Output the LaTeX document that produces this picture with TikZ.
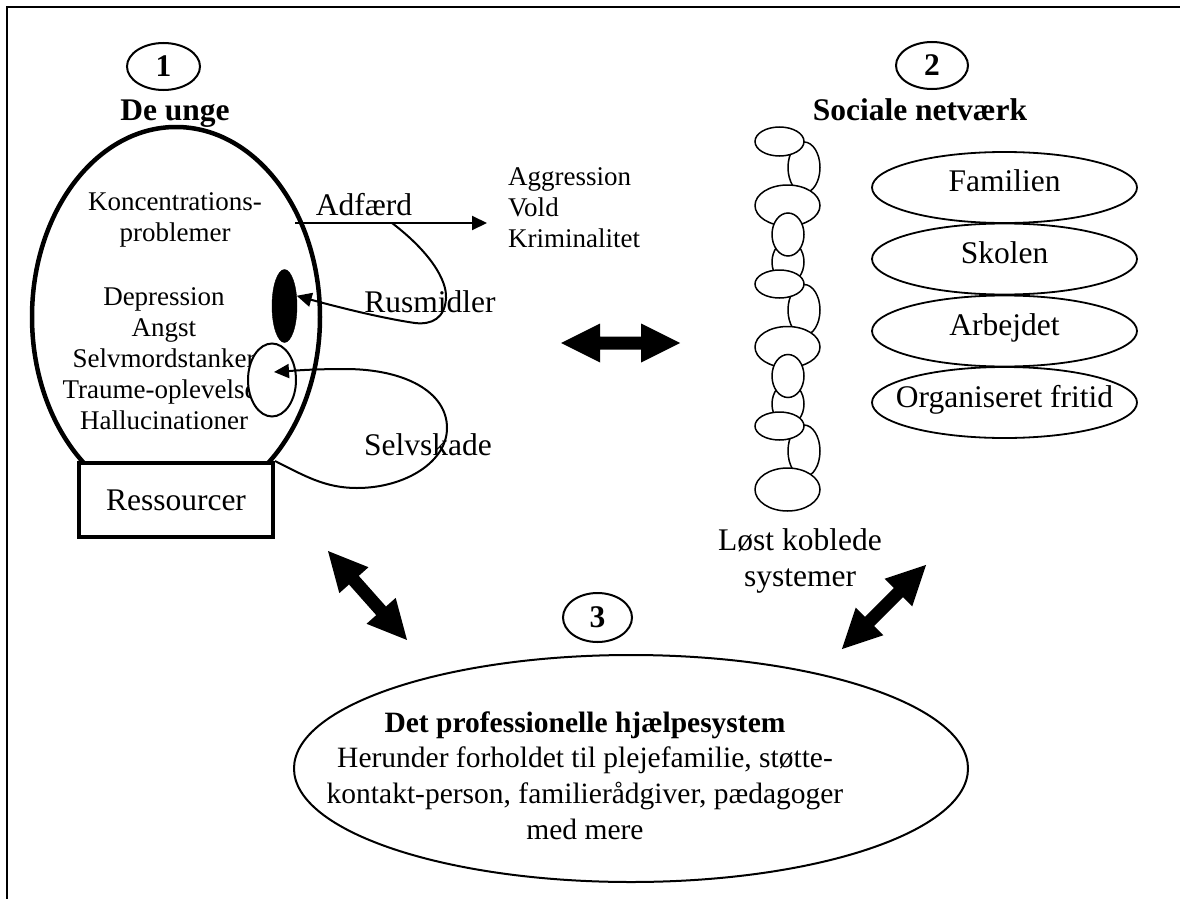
\documentclass[tikz,border=0pt]{standalone}
\usepackage{fontspec}
\setmainfont{Liberation Serif}
\usetikzlibrary{shapes.geometric,arrows.meta}
\newcommand\dblarrowshape[3]{%
  \coordinate (#1) at (#2);
  \fill[shift={(#1)},rotate=#3] (-59.5,0) -- (-20.5,-19.5) -- (-20.5,-6.5) -- (20.5,-6.5) -- (20.5,-19.5) -- (59.5,0) -- (20.5,19.5) -- (20.5,6.5) -- (-20.5,6.5) -- (-20.5,19.5) -- cycle;}
\begin{document}
\begin{tikzpicture}[x=1pt,y=-1pt,
  t12/.style={font=\fontsize{27}{31}\selectfont, inner sep=0pt},
  t13/.style={font=\fontsize{29.5}{36}\selectfont, inner sep=0pt},
  t14/.style={font=\fontsize{31.5}{36}\selectfont, inner sep=0pt},
  bold14/.style={font=\fontsize{31.5}{36}\selectfont\bfseries, inner sep=0pt},
  numell/.style={draw, ellipse, line width=2pt, inner sep=0pt, font=\fontsize{31.5}{36}\selectfont\bfseries},
  link/.style={ellipse, draw, fill=white, line width=1.5pt, inner sep=0pt},
  socell/.style={ellipse, draw, line width=1.8pt, inner sep=0pt, minimum width=265pt, minimum height=71pt},
  thinline/.style={line width=2pt},
  tip/.style={-{Triangle[length=15pt,width=14pt]}}
]
\useasboundingbox (0,0) rectangle (1180,899);
% frame
\coordinate (bl) at (7,899);
\coordinate (tl) at (7,7);
\coordinate (tr) at (1180,7);
\draw[line width=2pt] (bl) -- (tl) -- (tr);

% ---- 1: De unge
\node[numell, minimum width=73pt, minimum height=47pt] (n1) at (163.5,66.5) {1};
\node[bold14, anchor=base] (deunge) at (175,120) {De unge};
\node[draw, ellipse, line width=4.5pt, minimum width=288pt, minimum height=380pt, inner sep=0pt] (head) at (176,317) {};
\node[t12, anchor=base] (k1) at (175,210) {Koncentrations-};
\node[t12, anchor=base] (k2) at (175,241) {problemer};
\node[t12, anchor=base] (s1) at (164,305) {Depression};
\node[t12, anchor=base] (s2) at (164,336) {Angst};
\node[t12, anchor=base] (s3) at (164,367) {Selvmordstanker};
\node[t12, anchor=base] (s4) at (164,398) {Traume-oplevelser};
\node[t12, anchor=base] (s5) at (164,429) {Hallucinationer};
\node[draw, fill=black, ellipse, minimum width=25pt, minimum height=73pt, inner sep=0pt] (blk) at (284.5,306) {};
\node[draw, fill=white, ellipse, line width=2pt, minimum width=48pt, minimum height=73pt, inner sep=0pt] (sm) at (272,380) {};
\node[t14, draw, fill=white, line width=4pt, minimum width=194pt, minimum height=74pt] (res) at (176,500) {Ressourcer};

% Adfaerd
\coordinate (adfs) at (295,223);
\coordinate (adfe) at (487,223);
\coordinate (split) at (392,223);
\draw[thinline, tip] (adfs) -- (adfe);
\node[t14, anchor=base] (adf) at (364,215) {Adfærd};
\node[t12, anchor=base west] (agg) at (508,185) {Aggression};
\node[t12, anchor=base west] (vold) at (508,216) {Vold};
\node[t12, anchor=base west] (krim) at (508,247) {Kriminalitet};

% Rusmidler loop
\draw[thinline, tip] (split) .. controls (430,252) and (447,280) .. (446,298)
  .. controls (445,318) and (432,325) .. (415,323)
  .. controls (380,318) and (330,305) .. (blk.40);
\node[t14, anchor=base] (rus) at (430,312) {Rusmidler};

% Selvskade loop
\coordinate (smtip) at (274,372);
\draw[thinline, tip] (res.north east) .. controls (305,476) and (325,488) .. (357,488)
  .. controls (405,488) and (447,462) .. (447,428)
  .. controls (447,392) and (405,369) .. (345,369)
  .. controls (310,369) and (290,371) .. (smtip);
\node[t14, anchor=base] (selv) at (428,455) {Selvskade};

% block arrows
\dblarrowshape{a12}{620.5,343}{0}
\dblarrowshape{a13}{367.5,595.5}{-48.4}
\dblarrowshape{a23}{884,607}{45}

% ---- 2: Sociale netvaerk
\node[numell, minimum width=72pt, minimum height=47pt] (n2) at (932,65.5) {2};
\node[bold14, anchor=base] (soc) at (920,120) {Sociale netværk};

% loosely coupled chain
\node[link, minimum width=32pt, minimum height=51pt] (c2) at (804,167.5) {};
\node[link, minimum width=49pt, minimum height=29pt] (c1) at (779.5,141.5) {};
\node[link, minimum width=65pt, minimum height=41pt] (c3) at (787.5,205.5) {};
\node[link, minimum width=32pt, minimum height=42pt] (c5) at (788,262) {};
\node[link, minimum width=32pt, minimum height=43pt] (c4) at (788,234.5) {};
\node[link, minimum width=32pt, minimum height=51pt] (c7) at (804,310) {};
\node[link, minimum width=49pt, minimum height=28pt] (c6) at (779.5,284) {};
\node[link, minimum width=65pt, minimum height=41pt] (c8) at (787.5,347) {};
\node[link, minimum width=32pt, minimum height=42pt] (c10) at (788,404) {};
\node[link, minimum width=32pt, minimum height=43pt] (c9) at (788,376) {};
\node[link, minimum width=32pt, minimum height=52pt] (c12) at (804,451) {};
\node[link, minimum width=49pt, minimum height=28pt] (c11) at (779.5,426) {};
\node[link, minimum width=65pt, minimum height=43pt] (c13) at (787.5,489.5) {};
\node[t14, anchor=base] (lk1) at (800,550) {Løst koblede};
\node[t14, anchor=base] (lk2) at (800,586) {systemer};

% social ellipses
\node[socell] (fam) at (1004.5,187.5) {};
\node[t14, anchor=base] (famt) at ([yshift=-4pt]fam.center) {Familien};
\node[socell] (sko) at (1004.5,259) {};
\node[t14, anchor=base] (skot) at ([yshift=-4pt]sko.center) {Skolen};
\node[socell] (arb) at (1004.5,331) {};
\node[t14, anchor=base] (arbt) at ([yshift=-4pt]arb.center) {Arbejdet};
\node[socell] (org) at (1004.5,402.5) {};
\node[t14, anchor=base] (orgt) at ([yshift=-4.5pt]org.center) {Organiseret fritid};

% ---- 3: professionelle hjaelpesystem
\node[numell, minimum width=69pt, minimum height=49pt] (n3) at (597.5,617.5) {3};
\node[draw, ellipse, line width=2pt, minimum width=674pt, minimum height=227pt, inner sep=0pt] (prof) at (631,768.5) {};
\node[font=\fontsize{29.5}{36}\selectfont\bfseries, inner sep=0pt, anchor=base] (p1) at (585,732) {Det professionelle hjælpesystem};
\node[t13, anchor=base] (p2) at (585,767) {Herunder forholdet til plejefamilie, støtte-};
\node[t13, anchor=base] (p3) at (585,803) {kontakt-person, familierådgiver, pædagoger};
\node[t13, anchor=base] (p4) at (585,839) {med mere};
\end{tikzpicture}
\end{document}
